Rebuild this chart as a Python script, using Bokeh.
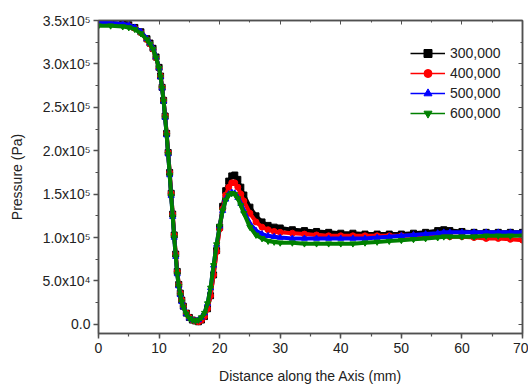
from bokeh.plotting import figure
from bokeh.models import (Range1d, LinearAxis, Legend, LegendItem,
                          CustomJSTickFormatter, SingleIntervalTicker)
from bokeh.embed import file_html
from bokeh.resources import INLINE

# ---------------- data (pressure in units of 1e5 Pa) ----------------
SCALE = 1e5
distance_mm = [0, 2, 4, 5, 6, 7, 8,
               8.5, 9, 9.5, 10,
               10.25, 10.5, 10.75, 11, 11.25, 11.5, 11.75, 12, 12.25, 12.5, 12.75, 13, 13.25, 13.5, 13.75, 14,
               14.5, 15, 15.5, 16, 16.5, 17, 17.5, 18, 18.5, 19, 19.5, 20, 20.5, 21, 21.5, 22, 22.5, 23, 23.5, 24,
               25, 26, 27, 28, 29, 30,
               32, 34, 36, 38, 40, 42, 44, 46, 48, 50, 52, 54, 56,
               57,
               58, 60, 62, 64, 66, 68, 70]

p_300000 = [3.47, 3.47, 3.46, 3.45, 3.42, 3.37, 3.29,
            3.24, 3.18, 3.08, 2.96,
            2.86, 2.73, 2.58, 2.40, 2.20, 1.98, 1.75, 1.51, 1.27, 1.03, 0.81, 0.61, 0.46, 0.36, 0.28, 0.21,
            0.13, 0.08, 0.05, 0.04, 0.03, 0.05, 0.09, 0.18, 0.33, 0.57, 0.85, 1.12, 1.36, 1.54, 1.65, 1.71, 1.72, 1.67, 1.58, 1.49,
            1.35, 1.25, 1.18, 1.14, 1.12, 1.11,
            1.09, 1.08, 1.07, 1.06, 1.05, 1.05, 1.04, 1.04, 1.04, 1.04, 1.05, 1.06, 1.08,
            1.09,
            1.08, 1.07, 1.06, 1.06, 1.06, 1.06, 1.06]

p_400000 = [3.46, 3.46, 3.45, 3.44, 3.41, 3.36, 3.28,
            3.23, 3.17, 3.07, 2.95,
            2.86, 2.73, 2.58, 2.40, 2.20, 1.98, 1.75, 1.51, 1.27, 1.03, 0.81, 0.61, 0.46, 0.36, 0.28, 0.21,
            0.13, 0.08, 0.05, 0.04, 0.03, 0.05, 0.09, 0.18, 0.33, 0.57, 0.84, 1.10, 1.33, 1.49, 1.58, 1.63, 1.63, 1.58, 1.50, 1.42,
            1.28, 1.18, 1.12, 1.09, 1.07, 1.06,
            1.05, 1.04, 1.03, 1.02, 1.02, 1.02, 1.02, 1.02, 1.02, 1.02, 1.02, 1.02, 1.02,
            1.02,
            1.01, 1.01, 1.00, 0.99, 0.99, 0.98, 0.97]

p_500000 = [3.47, 3.47, 3.46, 3.45, 3.42, 3.37, 3.29,
            3.24, 3.18, 3.08, 2.95,
            2.85, 2.72, 2.57, 2.38, 2.18, 1.96, 1.72, 1.48, 1.24, 1.00, 0.78, 0.58, 0.44, 0.34, 0.26, 0.20,
            0.12, 0.07, 0.05, 0.04, 0.05, 0.08, 0.13, 0.24, 0.42, 0.68, 0.92, 1.13, 1.31, 1.44, 1.50, 1.52, 1.51, 1.46, 1.39, 1.31,
            1.16, 1.08, 1.04, 1.02, 1.01, 1.00,
            0.99, 0.99, 0.99, 0.99, 0.99, 0.99, 0.99, 1.00, 1.01, 1.02, 1.03, 1.04, 1.05,
            1.06,
            1.06, 1.06, 1.06, 1.06, 1.06, 1.06, 1.06]

p_600000 = [3.44, 3.44, 3.43, 3.42, 3.40, 3.35, 3.28,
            3.23, 3.17, 3.07, 2.95,
            2.85, 2.72, 2.57, 2.38, 2.18, 1.96, 1.72, 1.48, 1.24, 1.00, 0.78, 0.58, 0.44, 0.34, 0.26, 0.20,
            0.12, 0.07, 0.05, 0.04, 0.05, 0.08, 0.13, 0.24, 0.42, 0.68, 0.92, 1.13, 1.31, 1.43, 1.49, 1.51, 1.50, 1.45, 1.37, 1.28,
            1.12, 1.03, 0.99, 0.96, 0.95, 0.94,
            0.94, 0.93, 0.93, 0.93, 0.93, 0.93, 0.94, 0.95, 0.96, 0.97, 0.98, 0.99, 1.00,
            1.01,
            1.01, 1.01, 1.01, 1.02, 1.02, 1.02, 1.02]

series_labels = ["300,000", "400,000", "500,000", "600,000"]
series_values = [p_300000, p_400000, p_500000, p_600000]
series_colors = ["#000000", "#ff0000", "#0000ff", "#008000"]
series_markers = ["square", "circle", "triangle", "inverted_triangle"]

x_label = "Distance along the Axis (mm)"
y_label = "Pressure (Pa)"

FONT = "Liberation Sans"
AXIS_COLOR = "#505050"

# ---------------- figure ----------------
p = figure(width=528, height=387, output_backend="svg", toolbar_location=None,
           x_range=Range1d(0, 70), y_range=Range1d(-10500, 350000),
           min_border_left=98, min_border_right=6, min_border_top=20, min_border_bottom=54)
p.xgrid.visible = False
p.ygrid.visible = False
p.outline_line_color = AXIS_COLOR
p.outline_line_width = 1.5
p.background_fill_color = "white"
p.border_fill_color = "white"

fmt = CustomJSTickFormatter(code="""
if (Math.abs(tick) < 1e-9) { return "0.0"; }
const sup = {"0":"\u2070","1":"\u00b9","2":"\u00b2","3":"\u00b3","4":"\u2074",
             "5":"\u2075","6":"\u2076","7":"\u2077","8":"\u2078","9":"\u2079","-":"\u207b"};
const e = Math.floor(Math.log10(Math.abs(tick)) + 1e-9);
const m = tick / Math.pow(10, e);
return m.toFixed(1) + "x10" + String(e).split("").map(c => sup[c]).join("");
""")

xt = SingleIntervalTicker(interval=10, num_minor_ticks=2)
yt = SingleIntervalTicker(interval=50000, num_minor_ticks=2)

xa = p.xaxis[0]
xa.ticker = xt
ya = p.yaxis[0]
ya.ticker = yt
ya.formatter = fmt
xa.axis_label = x_label
ya.axis_label = y_label
for ax in (xa, ya):
    ax.axis_line_color = AXIS_COLOR
    ax.axis_line_width = 1.5
    ax.major_tick_line_color = AXIS_COLOR
    ax.minor_tick_line_color = AXIS_COLOR
    ax.major_tick_line_width = 1.5
    ax.minor_tick_line_width = 1.2
    ax.major_tick_out = 5
    ax.major_tick_in = 0
    ax.minor_tick_out = 3
    ax.minor_tick_in = 0
    ax.major_label_text_font = FONT
    ax.major_label_text_font_size = "14px"
    ax.major_label_text_color = "#222222"
    ax.axis_label_text_font = FONT
    ax.axis_label_text_font_size = "14px"
    ax.axis_label_text_font_style = "normal"
    ax.axis_label_text_color = "#222222"
xa.major_label_standoff = 4
xa.axis_label_standoff = 12
ya.major_label_standoff = 3
ya.axis_label_standoff = 14

blank = CustomJSTickFormatter(code="return '';")
for side, tk in (("above", xt), ("right", yt)):
    ax = LinearAxis(ticker=tk, formatter=blank,
                    major_label_standoff=0, axis_line_color=AXIS_COLOR,
                    axis_line_width=1.5, major_tick_line_color=AXIS_COLOR,
                    minor_tick_line_color=AXIS_COLOR, major_tick_in=4, major_tick_out=0,
                    minor_tick_in=2, minor_tick_out=0)
    p.add_layout(ax, side)

items = []
for lab, vals, col, mk in zip(series_labels, series_values, series_colors, series_markers):
    ys = [v * SCALE for v in vals]
    p.line(distance_mm, ys, line_width=4, color=col)
    sc = p.scatter(distance_mm, ys, marker=mk, size=6, color=col)
    thin = p.line(distance_mm, ys, line_width=1.5, color=col)
    items.append(LegendItem(label=lab, renderers=[thin, sc]))

legend = Legend(items=items, location=(312, 210), background_fill_alpha=0,
                border_line_alpha=0, glyph_width=35, glyph_height=20,
                label_height=20, spacing=0, padding=0, margin=0, label_standoff=5,
                label_text_font=FONT, label_text_font_size="14px",
                label_text_color="#222222")
p.add_layout(legend)

open("out.html", "w").write(file_html(p, INLINE))
